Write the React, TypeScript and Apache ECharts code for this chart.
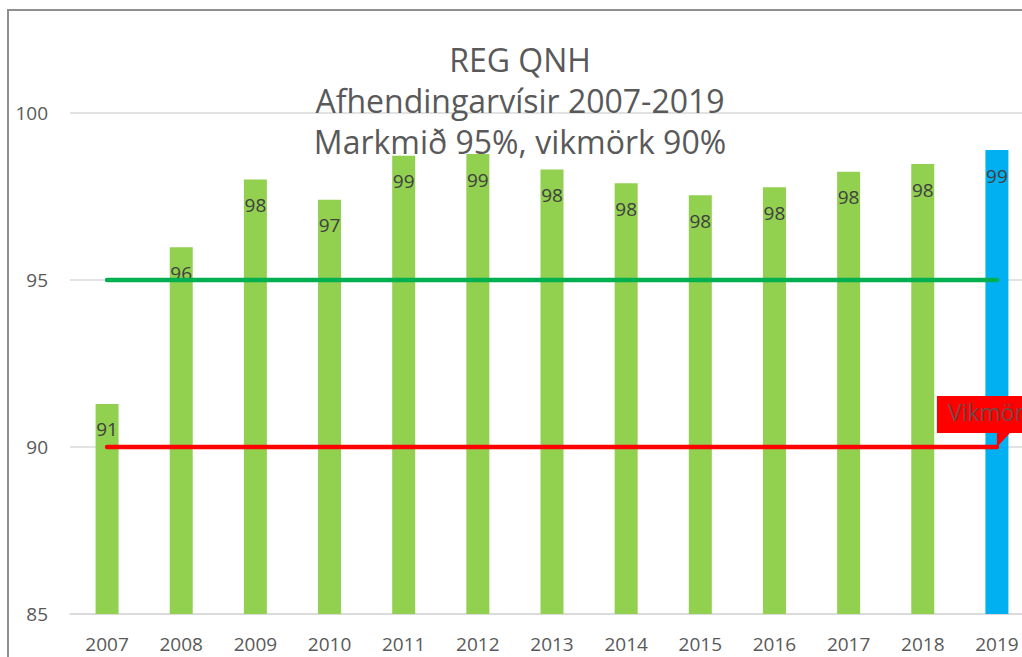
import React, { useEffect, useRef } from "react";
import * as echarts from "echarts";

const years = ["2007", "2008", "2009", "2010", "2011", "2012", "2013", "2014", "2015", "2016", "2017", "2018", "2019"];
const deliveryValues = [91.29, 95.98, 98.01, 97.4, 98.72, 98.77, 98.31, 97.9, 97.54, 97.78, 98.24, 98.47, 98.89];
const targetValues = [95, 95, 95, 95, 95, 95, 95, 95, 95, 95, 95, 95, 95];
const toleranceValues = [90, 90, 90, 90, 90, 90, 90, 90, 90, 90, 90, 90, 90];
const yMin = 85;
const yMax = 100;
const yStep = 5;
const titleLines = ["REG QNH", "Afhendingarvísir 2007-2019", "Markmið 95%, vikmörk 90%"];
const calloutText = "Vikmörk";

const FONT = "'Open Sans', 'Noto Sans', sans-serif";

export default function App() {
  const ref = useRef<HTMLDivElement>(null);
  useEffect(() => {
    if (!ref.current) return;
    const chart = echarts.init(ref.current, null, { renderer: "svg" });
    const last = years.length - 1;
    chart.setOption({
      animation: false,
      backgroundColor: "#ffffff",
      textStyle: { fontFamily: FONT },
      title: {
        text: titleLines.join("\n"),
        left: 511,
        top: 28,
        padding: 0,
        textAlign: "center",
        textStyle: { fontFamily: FONT, fontSize: 32, fontWeight: "normal", color: "#595959", lineHeight: 41 },
      },
      grid: { left: 61, top: 102, width: 964, height: 501, containLabel: false },
      xAxis: {
        type: "category",
        data: years,
        axisLine: { lineStyle: { color: "#d9d9d9", width: 1.5 } },
        axisTick: { show: false },
        axisLabel: { color: "#595959", fontSize: 19, margin: 20, fontFamily: FONT },
      },
      yAxis: {
        type: "value",
        min: yMin,
        max: yMax,
        interval: yStep,
        axisLine: { show: false },
        axisTick: { show: false },
        splitLine: { lineStyle: { color: "#d9d9d9", width: 1.5 } },
        axisLabel: { color: "#595959", fontSize: 19, margin: 22, fontFamily: FONT },
      },
      series: [
        {
          type: "bar",
          data: deliveryValues,
          barWidth: 23,
          itemStyle: {
            color: (p: any) => (p.dataIndex === last ? "#00b0f0" : "#92d050"),
          },
          label: {
            show: true,
            position: "insideTop",
            distance: 16,
            color: "#404040",
            fontSize: 19,
            fontFamily: FONT,
            formatter: (p: any) => String(Math.round(p.value)),
          },
        },
        {
          type: "line",
          data: targetValues,
          showSymbol: false,
          symbol: "none",
          lineStyle: { color: "#00b050", width: 4.5, cap: "round" },
        },
        {
          type: "line",
          data: toleranceValues,
          showSymbol: false,
          symbol: "none",
          lineStyle: { color: "#ff0000", width: 4.5, cap: "round" },
          markPoint: {
            silent: true,
            symbol: "path://M0,0 L110,0 L110,37 L73,37 L60,51 L60,37 L0,37 Z",
            symbolSize: [110, 51],
            symbolOffset: [-5, -25.5],
            itemStyle: { color: "#ff0000" },
            label: {
              show: true,
              position: [11, 4],
              color: "#704848",
              fontSize: 23,
              fontFamily: FONT,
              formatter: calloutText,
            },
            data: [{ coord: [years[last], toleranceValues[last]], value: calloutText }],
          },
        },
      ],
    });
    return () => chart.dispose();
  }, []);

  return (
    <div style={{ position: "fixed", left: 0, top: 0, width: 1022, height: 657, overflow: "hidden", background: "#fff" }}>
      <div
        style={{
          position: "absolute",
          left: 7,
          top: 9,
          borderLeft: "2px solid #8f8f8f",
          borderTop: "2px solid #8f8f8f",
        }}
      >
        <div ref={ref} style={{ width: 1100, height: 700 }} />
      </div>
    </div>
  );
}
